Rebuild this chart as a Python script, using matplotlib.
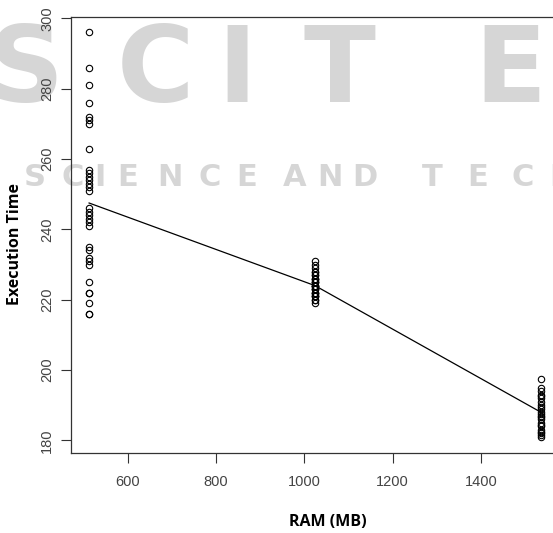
import matplotlib
matplotlib.use("Agg")
import matplotlib.pyplot as plt

# execution times, one list per RAM size
ram_levels = [512, 1024, 1536]
time_512 = [296, 286, 281, 276, 272, 271, 270, 263, 257, 256, 255, 254, 253, 252, 251,
            246, 245, 244, 243, 242, 241, 235, 234, 232, 231, 230, 225, 222, 222, 219, 216, 216]
time_1024 = [231, 230, 229, 228, 228, 227, 227, 226, 226, 226, 225, 225, 225, 224, 224,
             224, 224, 223, 223, 223, 222, 222, 222, 221, 221, 221, 220, 220, 219]
time_1536 = [197.5, 195, 194, 193, 192.5, 192, 191, 190, 189.5, 189, 188, 187.5, 187,
             186.5, 186, 185, 184.5, 184, 183, 182.5, 182, 181.5, 181]
mean_time = [247.5, 224, 188]

x_ticks = [600, 800, 1000, 1200, 1400]
y_ticks = [180, 200, 220, 240, 260, 280, 300]

W, H = 553, 533
fig = plt.figure(figsize=(W / 100, H / 100), dpi=100)
ax = fig.add_axes([71 / W, 80 / H, 488 / W, 436 / H])
ax.patch.set_facecolor('none')

# faint watermark behind the plot
wm = '#d6d6d6'
for ch, xc in zip("SCITE", [25, 155, 237, 340, 510]):
    fig.text(xc / W, 1 - 73 / H, ch, color=wm, fontsize=76, fontweight='bold',
             family='DejaVu Sans', ha='center', va='center', zorder=-1)
for ch, xc in zip("SCIENCEANDTECH", [35, 73, 100, 128, 170, 210, 247, 295, 330, 365, 432, 478, 523, 562]):
    fig.text(xc / W, 1 - 177 / H, ch, color=wm, fontsize=22, fontweight='bold',
             family='DejaVu Sans', ha='center', va='center', zorder=-1)

for ram, times in zip(ram_levels, [time_512, time_1024, time_1536]):
    ax.plot([ram] * len(times), times, 'o', mfc='none', mec='black', ms=4.6, mew=0.8)
ax.plot(ram_levels, mean_time, color='black', lw=0.9)

ax.set_xlim(471, 1577)
ax.set_ylim(176.4, 300.4)
ax.set_xticks(x_ticks)
ax.set_yticks(y_ticks)
for s in ax.spines.values():
    s.set_color('#333333')
    s.set_linewidth(0.9)
ax.tick_params(direction='out', length=7, width=0.8, color='#333333',
               labelcolor='#444444', labelsize=10.5)
ax.set_xticklabels([str(v) for v in x_ticks], family='Liberation Sans')
ax.set_yticklabels([str(v) for v in y_ticks], family='Liberation Sans', rotation=90, va='center')
ax.tick_params(axis='x', pad=9)
ax.tick_params(axis='y', pad=5)

fig.text(15 / W, 1 - 244 / H, 'Execution Time', rotation=90, ha='center', va='center',
         family='Open Sans', fontweight='bold', fontsize=11.5)
fig.text(328 / W, 1 - 522 / H, 'RAM (MB)', ha='center', va='center',
         family='Open Sans', fontweight='bold', fontsize=11.5)

fig.savefig('out.png', dpi=100)
